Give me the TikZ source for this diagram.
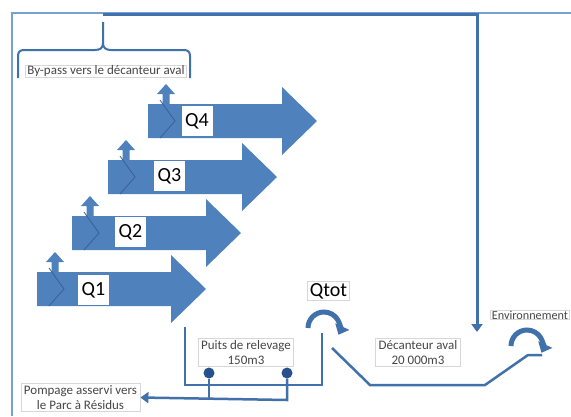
\documentclass[tikz,border=0pt]{standalone}
\usepackage{fontspec}
\setmainfont{Carlito}
\usetikzlibrary{arrows.meta}
\definecolor{qblue}{RGB}{79,129,189}
\definecolor{lineblue}{RGB}{65,113,170}
\definecolor{frameblue}{RGB}{120,160,210}
\definecolor{dotblue}{RGB}{40,80,140}
\definecolor{chev}{RGB}{55,95,150}
\definecolor{boxgray}{RGB}{215,215,215}
\definecolor{txtgray}{RGB}{70,70,70}
\tikzset{
  qlabel/.style={fill=white, inner sep=0pt, minimum width=31pt, minimum height=30pt, font=\fontsize{20}{22}\selectfont, text=black},
  infobox/.style={draw=boxgray, line width=0.8pt, fill=white, align=center, inner xsep=3pt, inner ysep=2pt, font=\fontsize{13}{15}\selectfont, text=txtgray},
  conn/.style={draw=lineblue, line width=2.5pt},
  tipA/.style={-{Triangle[width=11pt,length=8pt]}},
  curvearrow/.style={draw=lineblue, line width=5pt, -{Triangle[width=15pt,length=9pt]}},
  bigarrow/.style={fill=qblue},
}
\begin{document}
\begin{tikzpicture}[x=1pt,y=-1pt]
\useasboundingbox (0,0) rectangle (571,416);
\fill[white] (0,0) rectangle (571,416);

% thin frame
\draw[frameblue, line width=1.5pt] (12,416) -- (12,13) -- (571,13);

% thick top connector to decanteur
\coordinate (bypasstop) at (103,14);
\coordinate (decin) at (477,332);
\draw[conn, line width=3pt, tipA] (bypasstop) -- (477,14) -- (decin);

% brace
\draw[lineblue, line width=2pt] (103,22) -- (103,43) .. controls (103,48) and (100,50) .. (95,50) -- (24,50) .. controls (20,50) and (18,52) .. (18,56) -- (18,78);
\draw[lineblue, line width=2pt] (103,43) .. controls (103,48) and (106,50) .. (111,50) -- (184,50) .. controls (188,50) and (190,52) .. (190,56) -- (190,78);
\node[infobox, inner ysep=0.5pt, inner xsep=2pt] (bypass) at (106,71) {By-pass vers le décanteur aval};

% block arrows Q1..Q4
\foreach \L/\T in {37/272, 72/216, 108/160, 148/104}{
  \fill[bigarrow] (\L,\T) -- (\L+134,\T) -- (\L+134,\T-17) -- (\L+169,\T+17) -- (\L+134,\T+51) -- (\L+134,\T+34) -- (\L,\T+34) -- cycle;
  \fill[bigarrow] (\L+14.5,\T+1) -- (\L+14.5,\T-10) -- (\L+9,\T-10) -- (\L+18,\T-20) -- (\L+27,\T-10) -- (\L+21.5,\T-10) -- (\L+21.5,\T+1) -- cycle;
  \draw[chev, line width=0.8pt] (\L+12,\T-4) -- (\L+27,\T+17) -- (\L+12,\T+34);
}
\node[qlabel] (q1) at (93.5,290) {Q1};
\node[qlabel] (q2) at (130.5,232) {Q2};
\node[qlabel] (q3) at (169.5,176) {Q3};
\node[qlabel] (q4) at (197,121) {Q4};

% Puits de relevage
\node[infobox] (puits) at (246,352.5) {Puits de relevage\\150m3};
\draw[conn] (185,327) -- (185,385) -- (322,385) -- (322,333);
\node[circle, fill=dotblue, inner sep=0pt, minimum size=11pt] (d1) at (209,373) {};
\node[circle, fill=dotblue, inner sep=0pt, minimum size=11pt] (d2) at (287,373) {};

% Pompage
\node[infobox] (pompage) at (80.5,397.5) {Pompage asservi vers\\le Parc à Résidus};
\coordinate (j1) at (209,400);
\coordinate (j2) at (287,400);
\draw[conn] (d1) -- (j1);
\draw[conn, tipA] (d2) -- (j2) -- (pompage.east);

% Qtot
\node[infobox, inner sep=2pt, font=\fontsize{20}{22}\selectfont, text=black] (qtot) at (328.5,291) {Qtot};
\draw[curvearrow] (308,328) arc[start angle=180, end angle=385, radius=16];

% Decanteur
\node[infobox] (dec) at (418,352.5) {Décanteur aval\\20 000m3};
\draw[conn] (332,348) -- (370,385) -- (485,385) -- (528,355) -- (542,355);

% Environnement
\node[infobox, anchor=west, inner ysep=0.5pt, inner xsep=1.5pt, font=\fontsize{12.2}{14}\selectfont] (env) at (490,315) {Environnement};
\draw[curvearrow] (511,346) arc[start angle=180, end angle=385, radius=16];
\end{tikzpicture}
\end{document}
